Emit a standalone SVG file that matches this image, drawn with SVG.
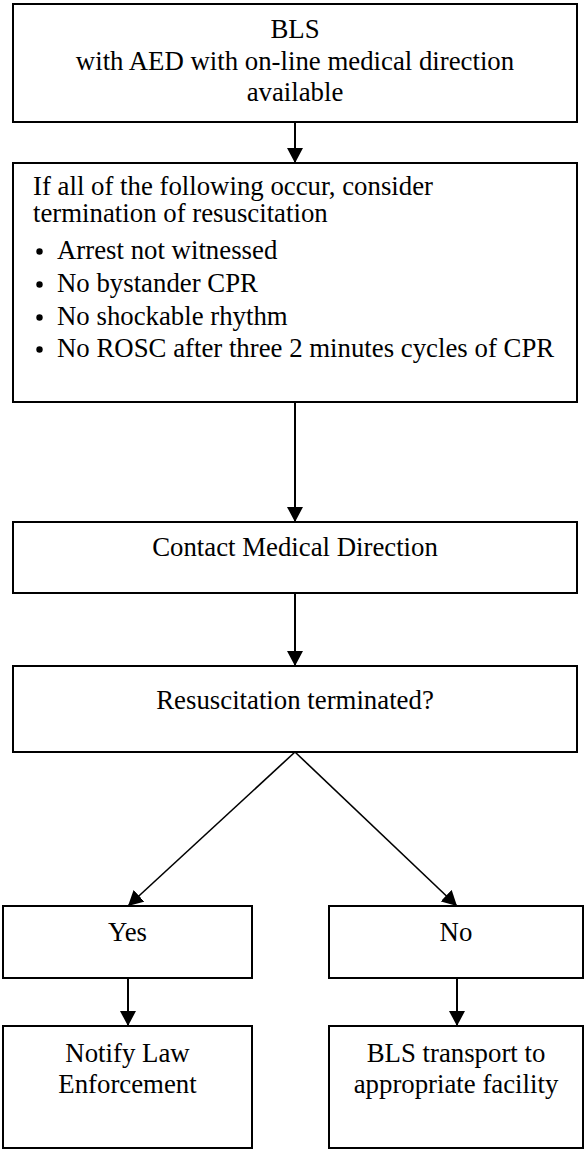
<svg xmlns="http://www.w3.org/2000/svg" width="584" height="1150" viewBox="0 0 584 1150">
  <style>
    .box { fill: #ffffff; stroke: #000000; stroke-width: 2; }
    .t { font-family: "Liberation Serif", "Times New Roman", serif; font-size: 26.8px; fill: #000000; }
    .c { text-anchor: middle; }
    .link { stroke: #000000; stroke-width: 2; fill: none; marker-end: url(#head); }
    .diag { stroke: #000000; stroke-width: 1.6; fill: none; marker-end: url(#head); }
  </style>
  <defs>
    <marker id="head" markerUnits="userSpaceOnUse" markerWidth="16" markerHeight="16" viewBox="0 0 16 16" refX="15" refY="8" orient="auto">
      <path d="M0,0 L15,8 L0,16 Z" fill="#000000"/>
    </marker>
  </defs>

  <rect width="584" height="1150" fill="#ffffff"/>

  <!-- connectors -->
  <g id="connectors">
    <line class="link" x1="295" y1="122" x2="295" y2="163"/>
    <line class="link" x1="295" y1="402" x2="295" y2="522"/>
    <line class="link" x1="295" y1="593" x2="295" y2="666"/>
    <line class="diag" x1="295" y1="752" x2="128" y2="906"/>
    <line class="diag" x1="295" y1="752" x2="457" y2="906"/>
    <line class="link" x1="128" y1="978" x2="128" y2="1026"/>
    <line class="link" x1="457" y1="978" x2="457" y2="1026"/>
  </g>

  <!-- start -->
  <g id="bls-aed">
    <rect class="box" x="13" y="4" width="564" height="118"/>
    <text class="t c" x="295" y="38">BLS</text>
    <text class="t c" x="295" y="70">with AED with on-line medical direction</text>
    <text class="t c" x="295" y="101">available</text>
  </g>

  <!-- termination criteria -->
  <g id="criteria">
    <rect class="box" x="13" y="163" width="564" height="239"/>
    <text class="t" x="33" y="195">If all of the following occur, consider</text>
    <text class="t" x="33" y="222">termination of resuscitation</text>
    <circle cx="39.5" cy="251.5" r="3.2"/>
    <text class="t" x="57" y="259">Arrest not witnessed</text>
    <circle cx="39.5" cy="284.5" r="3.2"/>
    <text class="t" x="57" y="292">No bystander CPR</text>
    <circle cx="39.5" cy="317.5" r="3.2"/>
    <text class="t" x="57" y="325">No shockable rhythm</text>
    <circle cx="39.5" cy="349.5" r="3.2"/>
    <text class="t" x="57" y="357">No ROSC after three 2 minutes cycles of CPR</text>
  </g>

  <g id="contact">
    <rect class="box" x="13" y="522" width="564" height="71"/>
    <text class="t c" x="295" y="556">Contact Medical Direction</text>
  </g>

  <g id="terminated">
    <rect class="box" x="13" y="666" width="564" height="86"/>
    <text class="t c" x="295" y="709">Resuscitation terminated?</text>
  </g>

  <g id="yes">
    <rect class="box" x="3" y="906" width="249" height="72"/>
    <text class="t c" x="127.5" y="941">Yes</text>
  </g>

  <g id="no">
    <rect class="box" x="329" y="906" width="254" height="72"/>
    <text class="t c" x="456" y="941">No</text>
  </g>

  <g id="notify">
    <rect class="box" x="3" y="1026" width="249" height="122"/>
    <text class="t c" x="127.5" y="1062">Notify Law</text>
    <text class="t c" x="127.5" y="1093">Enforcement</text>
  </g>

  <g id="transport">
    <rect class="box" x="329" y="1026" width="254" height="122"/>
    <text class="t c" x="456" y="1062">BLS transport to</text>
    <text class="t c" x="456" y="1093">appropriate facility</text>
  </g>
</svg>
